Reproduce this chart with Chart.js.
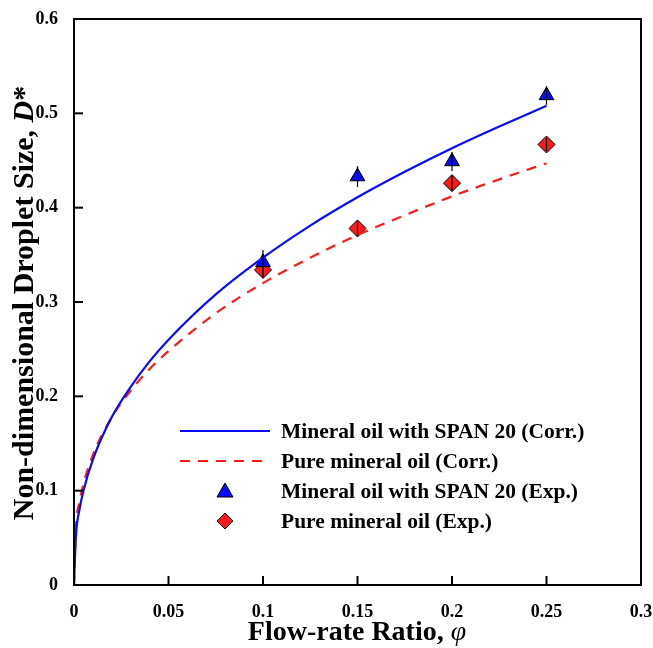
<!DOCTYPE html>
<html>
<head>
<meta charset="utf-8">
<script src="https://cdn.jsdelivr.net/npm/chart.js@4/dist/chart.umd.min.js"></script>
<style>
html,body{margin:0;padding:0;background:#fff;}
#wrap{width:653px;height:648px;position:relative;}
</style>
</head>
<body>
<div id="wrap"><canvas id="c" width="653" height="648"></canvas></div>
<script>
// Correlation curves
const phiCorr  = [0, 0.001, 0.003, 0.005, 0.01, 0.02, 0.03, 0.04, 0.05, 0.075, 0.1, 0.125, 0.15, 0.175, 0.2, 0.225, 0.25];
const spanCorr = [0, 0.051, 0.081, 0.100, 0.133, 0.178, 0.210, 0.237, 0.260, 0.308, 0.347, 0.381, 0.411, 0.438, 0.463, 0.486, 0.508];
const pureCorr = [0, 0.060, 0.089, 0.107, 0.138, 0.178, 0.206, 0.229, 0.248, 0.288, 0.320, 0.347, 0.371, 0.392, 0.412, 0.430, 0.447];
// Experimental points
const phiExp  = [0.1, 0.15, 0.2, 0.25];
const spanExp = [0.342, 0.433, 0.449, 0.519];
const spanErr = [0.013, 0.011, 0.010, 0.010];
const pureExp = [0.334, 0.378, 0.426, 0.467];
const pureErr = [0.008, 0.008, 0.008, 0.007];
// Ticks
const xTicks = [0, 0.05, 0.1, 0.15, 0.2, 0.25, 0.3];
const xTickLabels = ['0', '0.05', '0.1', '0.15', '0.2', '0.25', '0.3'];
const yTicks = [0, 0.1, 0.2, 0.3, 0.4, 0.5, 0.6];
const yTickLabels = ['0', '0.1', '0.2', '0.3', '0.4', '0.5', '0.6'];
const legendLabels = ['Mineral oil with SPAN 20 (Corr.)', 'Pure mineral oil (Corr.)', 'Mineral oil with SPAN 20 (Exp.)', 'Pure mineral oil (Exp.)'];

const BLUE = '#0a0aff', RED = '#ff1a1a';
const FONT = '"Liberation Serif", "Times New Roman", serif';

const pts = (xs, ys) => xs.map((x, i) => ({x: x, y: ys[i]}));

const extras = {
  id: 'extras',
  afterDatasetsDraw(chart) {
    const ctx = chart.ctx, xs = chart.scales.x, ys = chart.scales.y;
    ctx.save();
    ctx.strokeStyle = '#000'; ctx.lineWidth = 1.2;
    const bars = (yv, ev) => {
      phiExp.forEach((x, i) => {
        const px = xs.getPixelForValue(x);
        ctx.beginPath();
        ctx.moveTo(px, ys.getPixelForValue(yv[i] - ev[i]));
        ctx.lineTo(px, ys.getPixelForValue(yv[i] + ev[i]));
        ctx.stroke();
      });
    };
    bars(spanExp, spanErr); bars(pureExp, pureErr);
    ctx.restore();
  },
  afterDraw(chart) {
    const ctx = chart.ctx, a = chart.chartArea, xs = chart.scales.x, ys = chart.scales.y;
    ctx.save();
    // frame
    ctx.strokeStyle = '#000'; ctx.lineWidth = 2;
    ctx.strokeRect(a.left, a.top, a.right - a.left, a.bottom - a.top);
    // inward ticks
    ctx.lineWidth = 2;
    xTicks.slice(1, -1).forEach(v => {
      const p = xs.getPixelForValue(v);
      ctx.beginPath(); ctx.moveTo(p, a.bottom); ctx.lineTo(p, a.bottom - 9); ctx.stroke();
    });
    yTicks.slice(1, -1).forEach(v => {
      const p = ys.getPixelForValue(v);
      ctx.beginPath(); ctx.moveTo(a.left, p); ctx.lineTo(a.left + 9, p); ctx.stroke();
    });
    // legend
    const lx0 = 180, lx1 = 270, tx = 281, rows = [431, 461, 491, 521];
    ctx.lineWidth = 2;
    ctx.strokeStyle = BLUE; ctx.setLineDash([]);
    ctx.beginPath(); ctx.moveTo(lx0, rows[0]); ctx.lineTo(lx1, rows[0]); ctx.stroke();
    ctx.strokeStyle = RED; ctx.setLineDash([10, 8]);
    ctx.beginPath(); ctx.moveTo(lx0, rows[1]); ctx.lineTo(lx1, rows[1]); ctx.stroke();
    ctx.setLineDash([]);
    const cx = (lx0 + lx1) / 2;
    ctx.fillStyle = BLUE; ctx.strokeStyle = '#000'; ctx.lineWidth = 1;
    ctx.beginPath(); ctx.moveTo(cx, rows[2] - 8); ctx.lineTo(cx + 8, rows[2] + 6); ctx.lineTo(cx - 8, rows[2] + 6); ctx.closePath(); ctx.fill(); ctx.stroke();
    ctx.fillStyle = RED;
    ctx.beginPath(); ctx.moveTo(cx, rows[3] - 8); ctx.lineTo(cx + 8, rows[3]); ctx.lineTo(cx, rows[3] + 8); ctx.lineTo(cx - 8, rows[3]); ctx.closePath(); ctx.fill(); ctx.stroke();
    ctx.fillStyle = '#000';
    ctx.font = 'bold 21.5px ' + FONT;
    ctx.textBaseline = 'middle'; ctx.textAlign = 'left';
    legendLabels.forEach((t, i) => ctx.fillText(t, tx, rows[i] + 1));
    // x title
    const f1 = 'bold 28px ' + FONT, f2 = 'italic 28px ' + FONT;
    ctx.font = f1; const xt = 'Flow-rate Ratio, '; const w1 = ctx.measureText(xt).width;
    ctx.font = f2; const w2 = ctx.measureText('φ').width;
    let sx = 357 - (w1 + w2) / 2;
    ctx.textBaseline = 'middle';
    ctx.font = f1; ctx.fillText(xt, sx, 633);
    ctx.font = f2; ctx.fillText('φ', sx + w1, 633);
    // y title
    ctx.translate(25, 303);
    ctx.rotate(-Math.PI / 2);
    const yt = 'Non-dimensional Droplet Size, ';
    const fy = 'bold 30px ' + FONT, fyi = 'bold italic 30px ' + FONT;
    ctx.font = fy; const v1 = ctx.measureText(yt).width; const v3 = ctx.measureText('*').width;
    ctx.font = fyi; const v2 = ctx.measureText('D').width;
    let sy = -(v1 + v2 + v3) / 2;
    ctx.font = fy; ctx.fillText(yt, sy, 0);
    ctx.font = fyi; ctx.fillText('D', sy + v1, 0);
    ctx.font = fy; ctx.fillText('*', sy + v1 + v2, 0);
    ctx.restore();
  }
};

new Chart(document.getElementById('c'), {
  type: 'scatter',
  data: {
    datasets: [
      {label: legendLabels[0], data: pts(phiCorr, spanCorr), showLine: true, borderColor: BLUE, borderWidth: 2.2, pointRadius: 0, cubicInterpolationMode: 'monotone', fill: false},
      {label: legendLabels[1], data: pts(phiCorr, pureCorr), showLine: true, borderColor: RED, borderWidth: 2.2, borderDash: [10, 8], pointRadius: 0, cubicInterpolationMode: 'monotone', fill: false},
      {label: legendLabels[2], data: pts(phiExp, spanExp), showLine: false, pointStyle: 'triangle', pointRadius: 8.5, backgroundColor: BLUE, borderColor: '#000', borderWidth: 1},
      {label: legendLabels[3], data: pts(phiExp, pureExp), showLine: false, pointStyle: 'rectRot', pointRadius: 8.5, backgroundColor: RED, borderColor: '#000', borderWidth: 1}
    ]
  },
  options: {
    responsive: false,
    animation: false,
    layout: {padding: {left: 0, top: 19, right: 12, bottom: 0}},
    plugins: {legend: {display: false}, tooltip: {enabled: false}},
    scales: {
      x: {
        type: 'linear', min: 0, max: 0.3,
        afterBuildTicks: s => { s.ticks = xTicks.map(v => ({value: v})); },
        afterFit: s => { s.height = 63; s.paddingLeft = 0; s.paddingRight = 0; },
        grid: {display: false}, border: {display: false},
        ticks: {color: '#000', padding: 9, maxRotation: 0, font: {family: FONT, size: 18, weight: 'bold'},
          callback: (v) => xTickLabels[xTicks.indexOf(v)]}
      },
      y: {
        type: 'linear', min: 0, max: 0.6,
        afterBuildTicks: s => { s.ticks = yTicks.map(v => ({value: v})); },
        afterFit: s => { s.width = 74; s.paddingTop = 0; s.paddingBottom = 0; },
        grid: {display: false}, border: {display: false},
        ticks: {color: '#000', padding: 8, font: {family: FONT, size: 18, weight: 'bold'},
          callback: (v) => yTickLabels[yTicks.indexOf(v)]}
      }
    }
  },
  plugins: [extras]
});
</script>
</body>
</html>
